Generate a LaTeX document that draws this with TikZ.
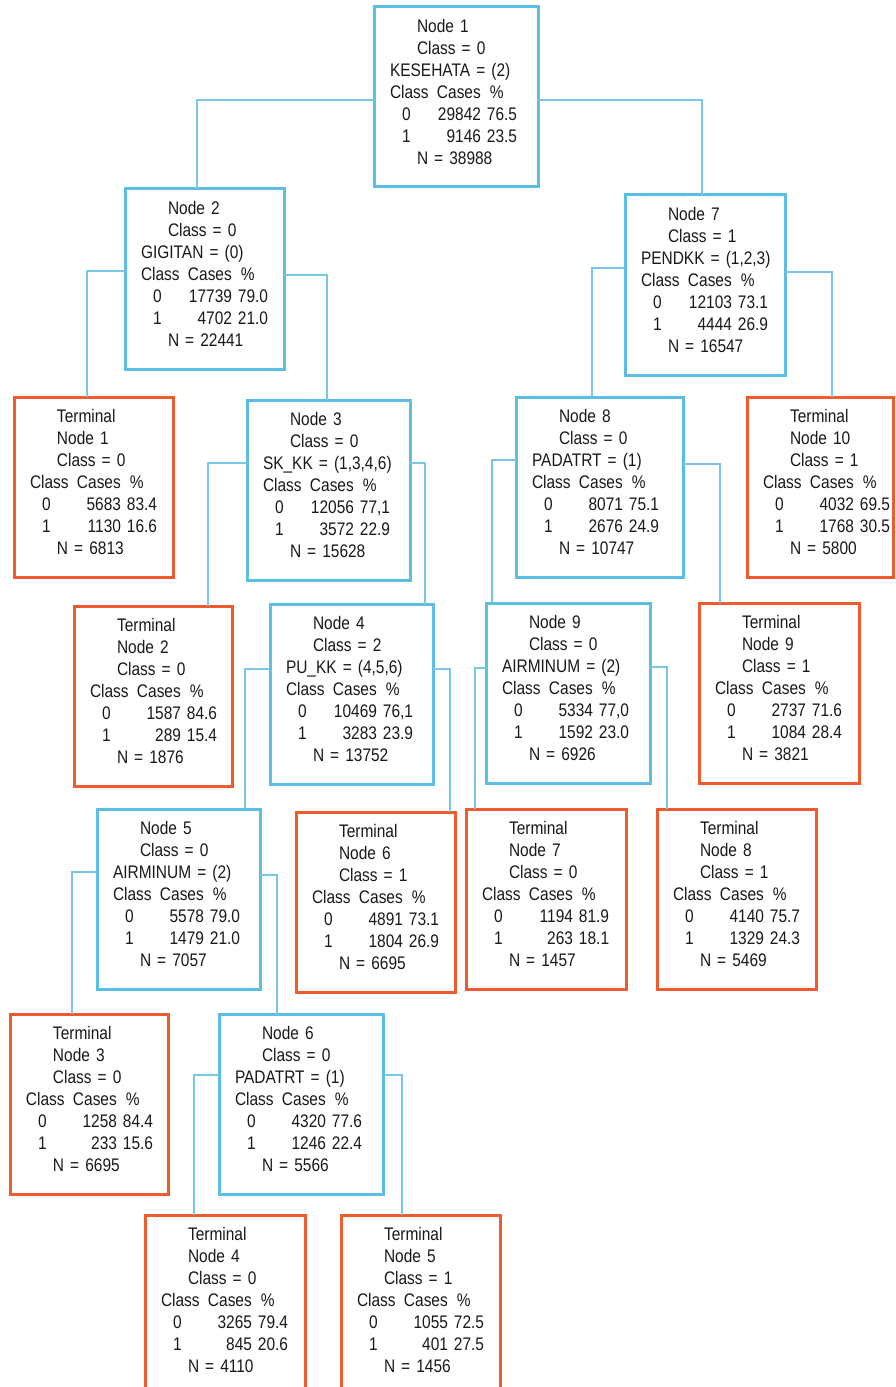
\documentclass[tikz,border=0pt]{standalone}
\usepackage{fontspec}
\setmainfont{Liberation Sans}[FakeStretch=0.85]
\usetikzlibrary{calc}
\newlength\px \setlength\px{0.75pt}
\newcommand\tline[1]{\makebox[0pt][l]{#1}}
\newcommand\ind[1]{\tline{\kern27\px #1}}
\newcommand\hdr{\tline{\makebox[47\px][l]{Class}\makebox[53\px][l]{Cases}\%}}
\newcommand\crow[3]{\tline{\makebox[33\px][c]{#1}\makebox[58\px][r]{#2}\kern6\px #3}}
\definecolor{nodeblue}{RGB}{92,190,226}
\definecolor{termorange}{RGB}{238,92,45}
\definecolor{linkblue}{RGB}{120,199,230}
\tikzset{
  base/.style={draw, line width=2.25pt, anchor=north west, align=left,
    inner xsep=12pt, inner ysep=0pt, text height=19.125pt, text depth=115.875pt,
    outer sep=0pt, font=\fontsize{13.65pt}{16.5pt}\selectfont, text=black!90},
  nd/.style={base, draw=nodeblue},
  tm/.style={base, draw=termorange},
  conn/.style={draw=linkblue, line width=1.2pt},
}
\begin{document}
\begin{tikzpicture}[x=0.75pt,y=-0.75pt]
\clip (0,0) rectangle (895,1387);
\fill[white] (0,0) rectangle (895,1387);

\node[nd, text width=99pt] (n1) at (374,7) {\ind{Node 1}\\ \ind{Class = 0}\\ \tline{KESEHATA = (2)}\\ \hdr\\ \crow{0}{29842}{76.5}\\ \crow{1}{9146}{23.5}\\ \ind{N = 38988}};
\node[nd, text width=95.25pt] (n2) at (125,189) {\ind{Node 2}\\ \ind{Class = 0}\\ \tline{GIGITAN = (0)}\\ \hdr\\ \crow{0}{17739}{79.0}\\ \crow{1}{4702}{21.0}\\ \ind{N = 22441}};
\node[nd, text width=96pt] (n7) at (625,195) {\ind{Node 7}\\ \ind{Class = 1}\\ \tline{PENDKK = (1,2,3)}\\ \hdr\\ \crow{0}{12103}{73.1}\\ \crow{1}{4444}{26.9}\\ \ind{N = 16547}};
\node[tm, text width=95.25pt] (t1) at (14,397) {\ind{Terminal}\\ \ind{Node 1}\\ \ind{Class = 0}\\ \hdr\\ \crow{0}{5683}{83.4}\\ \crow{1}{1130}{16.6}\\ \ind{N = 6813}};
\node[nd, text width=98.25pt] (n3) at (247,400) {\ind{Node 3}\\ \ind{Class = 0}\\ \tline{SK\_KK = (1,3,4,6)}\\ \hdr\\ \crow{0}{12056}{77,1}\\ \crow{1}{3572}{22.9}\\ \ind{N = 15628}};
\node[nd, text width=101.25pt] (n8) at (516,397) {\ind{Node 8}\\ \ind{Class = 0}\\ \tline{PADATRT = (1)}\\ \hdr\\ \crow{0}{8071}{75.1}\\ \crow{1}{2676}{24.9}\\ \ind{N = 10747}};
\node[tm, text width=85.5pt] (t10) at (747,397) {\ind{Terminal}\\ \ind{Node 10}\\ \ind{Class = 1}\\ \hdr\\ \crow{0}{4032}{69.5}\\ \crow{1}{1768}{30.5}\\ \ind{N = 5800}};
\node[tm, text width=94.5pt] (t2) at (74,606) {\ind{Terminal}\\ \ind{Node 2}\\ \ind{Class = 0}\\ \hdr\\ \crow{0}{1587}{84.6}\\ \crow{1}{289}{15.4}\\ \ind{N = 1876}};
\node[nd, text width=98.25pt] (n4) at (270,604) {\ind{Node 4}\\ \ind{Class = 2}\\ \tline{PU\_KK = (4,5,6)}\\ \hdr\\ \crow{0}{10469}{76,1}\\ \crow{1}{3283}{23.9}\\ \ind{N = 13752}};
\node[nd, text width=99pt] (n9) at (486,603) {\ind{Node 9}\\ \ind{Class = 0}\\ \tline{AIRMINUM = (2)}\\ \hdr\\ \crow{0}{5334}{77,0}\\ \crow{1}{1592}{23.0}\\ \ind{N = 6926}};
\node[tm, text width=96pt] (t9) at (699,603) {\ind{Terminal}\\ \ind{Node 9}\\ \ind{Class = 1}\\ \hdr\\ \crow{0}{2737}{71.6}\\ \crow{1}{1084}{28.4}\\ \ind{N = 3821}};
\node[nd, text width=98.25pt] (n5) at (97,809) {\ind{Node 5}\\ \ind{Class = 0}\\ \tline{AIRMINUM = (2)}\\ \hdr\\ \crow{0}{5578}{79.0}\\ \crow{1}{1479}{21.0}\\ \ind{N = 7057}};
\node[tm, text width=95.25pt] (t6) at (296,812) {\ind{Terminal}\\ \ind{Node 6}\\ \ind{Class = 1}\\ \hdr\\ \crow{0}{4891}{73.1}\\ \crow{1}{1804}{26.9}\\ \ind{N = 6695}};
\node[tm, text width=96pt] (t7) at (466,809) {\ind{Terminal}\\ \ind{Node 7}\\ \ind{Class = 0}\\ \hdr\\ \crow{0}{1194}{81.9}\\ \crow{1}{263}{18.1}\\ \ind{N = 1457}};
\node[tm, text width=95.25pt] (t8) at (657,809) {\ind{Terminal}\\ \ind{Node 8}\\ \ind{Class = 1}\\ \hdr\\ \crow{0}{4140}{75.7}\\ \crow{1}{1329}{24.3}\\ \ind{N = 5469}};
\node[tm, text width=94.5pt] (t3) at (10,1014) {\ind{Terminal}\\ \ind{Node 3}\\ \ind{Class = 0}\\ \hdr\\ \crow{0}{1258}{84.4}\\ \crow{1}{233}{15.6}\\ \ind{N = 6695}};
\node[nd, text width=99pt] (n6) at (219,1014) {\ind{Node 6}\\ \ind{Class = 0}\\ \tline{PADATRT = (1)}\\ \hdr\\ \crow{0}{4320}{77.6}\\ \crow{1}{1246}{22.4}\\ \ind{N = 5566}};
\node[tm, text width=96pt] (t4) at (145,1215) {\ind{Terminal}\\ \ind{Node 4}\\ \ind{Class = 0}\\ \hdr\\ \crow{0}{3265}{79.4}\\ \crow{1}{845}{20.6}\\ \ind{N = 4110}};
\node[tm, text width=95.25pt] (t5) at (341,1215) {\ind{Terminal}\\ \ind{Node 5}\\ \ind{Class = 1}\\ \hdr\\ \crow{0}{1055}{72.5}\\ \crow{1}{401}{27.5}\\ \ind{N = 1456}};

\draw[conn] ($(n1.north west)+(0,93)$) -| ($(n2.north west)+(72,0)$);
\draw[conn] ($(n1.north east)+(0,93)$) -| ($(n7.north west)+(77,0)$);
\draw[conn] ($(n2.north west)+(0,82)$) -| ($(t1.north west)+(73,0)$);
\draw[conn] ($(n2.north east)+(0,86)$) -| ($(n3.north west)+(80,0)$);
\draw[conn] ($(n7.north west)+(0,73)$) -| ($(n8.north west)+(76,0)$);
\draw[conn] ($(n7.north east)+(0,77)$) -| ($(t10.north west)+(85,0)$);
\draw[conn] ($(n3.north west)+(0,63)$) -| ($(t2.north west)+(134,0)$);
\draw[conn] ($(n3.north east)+(0,63)$) -| ($(n4.north west)+(155,0)$);
\draw[conn] ($(n8.north west)+(0,63)$) -| ($(n9.north west)+(6,0)$);
\draw[conn] ($(n8.north east)+(0,67)$) -| ($(t9.north west)+(21,0)$);
\draw[conn] ($(n4.north west)+(0,65)$) -| ($(n5.north west)+(148,0)$);
\draw[conn] ($(n4.north east)+(0,65)$) -| ($(t6.north west)+(154,0)$);
\draw[conn] ($(n9.north west)+(0,65)$) -| ($(t7.north west)+(9,0)$);
\draw[conn] ($(n9.north east)+(0,64)$) -| ($(t8.north west)+(10,0)$);
\draw[conn] ($(n5.north west)+(0,63)$) -| ($(t3.north west)+(62,0)$);
\draw[conn] ($(n5.north east)+(0,66)$) -| ($(n6.north west)+(58,0)$);
\draw[conn] ($(n6.north west)+(0,61)$) -| ($(t4.north west)+(49,0)$);
\draw[conn] ($(n6.north east)+(0,61)$) -| ($(t5.north west)+(61,0)$);
\end{tikzpicture}
\end{document}
